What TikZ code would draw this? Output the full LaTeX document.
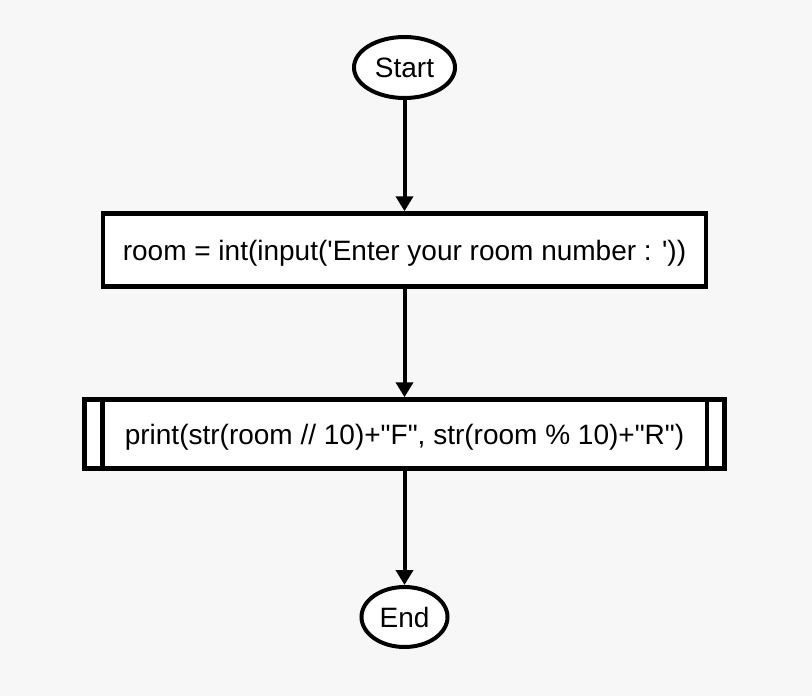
\documentclass[tikz,border=0pt]{standalone}
\usepackage{fontspec}
\setmainfont{Liberation Sans}[Ligatures=TeXOff]
\usetikzlibrary{shapes.geometric,arrows.meta}
\definecolor{bg}{RGB}{247,247,247}
\newcommand{\lowertxt}[1]{\raisebox{-3pt}[\height][\depth]{#1}}
\begin{document}
\begin{tikzpicture}[x=1pt,y=-1pt,
  term/.style={ellipse,draw=black,line width=4pt,fill=white,inner sep=0pt,font=\fontsize{28}{32}\selectfont},
  procbox/.style={rectangle,draw=black,line width=4.5pt,fill=white,inner sep=0pt,font=\fontsize{28}{32}\selectfont},
  flow/.style={line width=4pt,-{Triangle[width=17pt,length=15pt]}}]
\fill[bg] (0,0) rectangle (812,696);
\useasboundingbox (0,0) rectangle (812,696);
\node[term,minimum width=101pt,minimum height=61pt] (start) at (404.5,67.5) {Start};
\node[procbox,minimum width=603pt,minimum height=73pt] (room) at (404.5,250) {\lowertxt{room = int(input('Enter your room number : '))}};
\node[procbox,minimum width=640pt,minimum height=69pt] (print) at (404.5,434) {\lowertxt{print(str(room // 10)+"F", str(room \% 10)+"R")}};
\draw[line width=4.5pt] ([xshift=20pt]print.north west) -- ([xshift=20pt]print.south west);
\draw[line width=4.5pt] ([xshift=-20pt]print.north east) -- ([xshift=-20pt]print.south east);
\node[term,minimum width=86pt,minimum height=60pt] (end) at (404.5,617) {End};
\draw[flow] (start) -- (room);
\draw[flow] (room) -- (print);
\draw[flow] (print) -- (end);
\end{tikzpicture}
\end{document}
